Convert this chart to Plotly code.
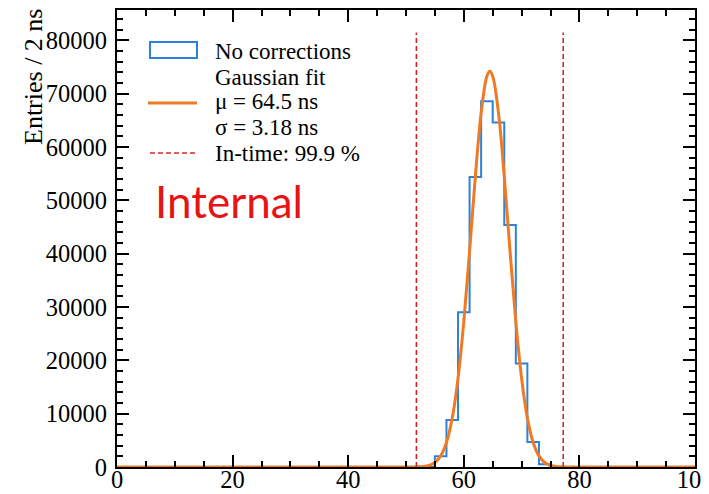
import plotly.graph_objects as go

# ---- data ----
bin_left = [55, 57, 59, 61, 63, 65, 67, 69, 71, 73]
bin_width = 2
counts = [2000, 8800, 29000, 54400, 68600, 64600, 45400, 19400, 4700, 500]

fit_x = [0, 50, 51, 52, 53, 54, 55, 56, 57, 58, 59, 60, 61, 62, 63, 64, 64.5,
         65, 66, 67, 68, 69, 70, 71, 72, 73, 74, 75, 76, 77, 78, 79, 100]
fit_y = [0, 0, 8, 33, 107, 319, 856, 2085, 4600, 9190, 16630, 27270, 40480,
         54470, 66400, 73290, 74200, 73290, 66400, 54470, 40480, 27270, 16630,
         9190, 4600, 2085, 856, 319, 107, 33, 8, 0, 0]

cut_lines = [51.8, 77.2]
cut_top = 81500

legend_lines = ["No corrections", "Gaussian fit", "μ = 64.5 ns", "σ = 3.18 ns", "In-time: 99.9 %"]

BLUE = "rgb(45,130,215)"
ORANGE = "rgb(240,122,35)"
RED = "#d62728"
SERIF = "Liberation Serif"

# step outline of histogram
hx = [0] + bin_left + [bin_left[-1] + bin_width, 100]
hy = [0] + counts + [0, 0]

fig = go.Figure()
fig.add_trace(go.Scatter(x=hx, y=hy, mode="lines", line=dict(color=BLUE, width=2, shape="hv"),
                         showlegend=False, name="No corrections"))
fig.add_trace(go.Scatter(x=fit_x, y=fit_y, mode="lines",
                         line=dict(color=ORANGE, width=3, shape="spline", smoothing=1.0),
                         showlegend=False, name="Gaussian fit"))
for xv in cut_lines:
    fig.add_trace(go.Scatter(x=[xv, xv], y=[0, cut_top], mode="lines",
                             line=dict(color=RED, width=1.6, dash="5px,3px"),
                             showlegend=False, name="In-time"))

# plot area in screen pixels (page has an 8px body margin)
OFF = 8
L, R, T, B = 117, 695, 10, 467
W, H = R - L, B - T

def px(x):
    return (x - L) / W

def py(y):
    return (B - y) / H

shapes = []
# legend icons
shapes.append(dict(type="rect", xref="paper", yref="paper", x0=px(150), x1=px(197), y0=py(58), y1=py(42),
                   line=dict(color=BLUE, width=2), fillcolor="rgba(0,0,0,0)"))
shapes.append(dict(type="line", xref="paper", yref="paper", x0=px(148), x1=px(197), y0=py(103), y1=py(103),
                   line=dict(color=ORANGE, width=3)))
shapes.append(dict(type="line", xref="paper", yref="paper", x0=px(150), x1=px(196), y0=py(153), y1=py(153),
                   line=dict(color=RED, width=1.6, dash="5px,3px")))

annotations = []
for txt, yc in zip(legend_lines, [52, 77, 102, 127, 153]):
    annotations.append(dict(text=txt, xref="paper", yref="paper", x=px(213), y=py(yc),
                            xanchor="left", yanchor="middle", showarrow=False,
                            font=dict(family=SERIF, size=23, color="black")))
annotations.append(dict(text="Internal", xref="paper", yref="paper", x=px(153), y=py(201),
                        xanchor="left", yanchor="middle", showarrow=False,
                        font=dict(family="Lato", size=44, color="rgb(230,20,20)")))
annotations.append(dict(text="Entries / 2 ns", xref="paper", yref="paper", x=px(33), y=py(77),
                        xanchor="center", yanchor="middle", showarrow=False, textangle=-90,
                        font=dict(family=SERIF, size=26, color="black")))

axis_common = dict(showline=True, linecolor="black", linewidth=2, mirror="allticks",
                   ticks="inside", ticklen=12, tickwidth=2, tickcolor="black",
                   showgrid=False, zeroline=False, automargin=False, tickformat="d",
                   tickfont=dict(family=SERIF, size=24.5, color="black"))

fig.update_layout(
    width=709, height=494,
    margin=dict(l=L - OFF, r=709 + OFF - R, t=T - OFF, b=494 + OFF - B, autoexpand=False),
    paper_bgcolor="white", plot_bgcolor="white",
    xaxis=dict(range=[0, 100], tick0=0, dtick=20, ticklabelstandoff=-10,
               minor=dict(ticks="inside", ticklen=6, tickwidth=1.5, tickcolor="black", dtick=5),
               **axis_common),
    yaxis=dict(range=[0, 85700], tick0=0, dtick=10000, ticklabelstandoff=3,
               minor=dict(ticks="inside", ticklen=6, tickwidth=1.5, tickcolor="black", dtick=2000),
               **axis_common),
    shapes=shapes,
    annotations=annotations,
    showlegend=False,
)

fig.write_html("out.html")
